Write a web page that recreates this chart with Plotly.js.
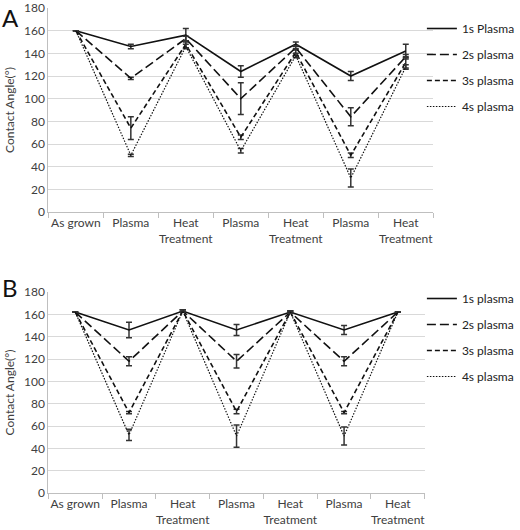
<!DOCTYPE html>
<html>
<head>
<meta charset="utf-8">
<script src="https://cdn.plot.ly/plotly-3.0.1.min.js"></script>
<style>html,body{margin:0;padding:0;background:#fff}#chart{width:520px;height:530px}</style>
</head>
<body>
<div id="chart"></div>
<script>
// Categories (x axis tick labels)
const categories = ['As grown','Plasma','Heat<br>Treatment','Plasma','Heat<br>Treatment','Plasma','Heat<br>Treatment'];
const yTicks = [0,20,40,60,80,100,120,140,160,180];

// Panel A series
const namesA = ['1s Plasma','2s plasma','3s plasma','4s plasma'];
const a1s = [160,146,156,124,148,120,142];
const a1sErr = [0,2,6,5,2,4,6];
const a2s = [160,118,153,100,145,84,137];
const a2sErr = [0,1,2,14,2,8,2];
const a3s = [160,74,148,66,141,50,132];
const a3sErr = [0,10,3,2,3,2,5];
const a4s = [160,50,146,54,138,30,128];
const a4sErr = [0,1,2,2,2,8,2];

// Panel B series
const namesB = ['1s plasma','2s plasma','3s plasma','4s plasma'];
const b1s = [162,146,163,146,162,146,162];
const b1sErr = [0,7,1,5,1,4,0];
const b2s = [162,118,163,118,162,118,162];
const b2sErr = [0,4,1,6,1,4,0];
const b3s = [162,72,163,73,162,72,162];
const b3sErr = [0,1,1,2,1,1,0];
const b4s = [162,52,163,51,162,51,162];
const b4sErr = [0,5,1,10,1,8,0];

const xIdx = categories.map((c,i)=>i);
const dashes = ['solid','9px,4px','5px,3px','1.5px,1.5px'];
const widths = [1.6,1.6,1.6,1.2];
const FONT = 'Lato, "Open Sans", sans-serif';

function mk(y, err, name, k, xa, ya, leg){
  return {
    x: xIdx, y: y, name: name, type: 'scatter', mode: 'lines',
    xaxis: xa, yaxis: ya, legend: leg, legendgroup: leg + k,
    line: {color: '#111', width: widths[k], dash: dashes[k]},
    error_y: {type: 'data', array: err, visible: true, color: '#333', thickness: 1.5, width: 3},
    hoverinfo: 'skip'
  };
}

const data = [
  mk(a1s,a1sErr,namesA[0],0,'x','y','legend'),
  mk(a2s,a2sErr,namesA[1],1,'x','y','legend'),
  mk(a3s,a3sErr,namesA[2],2,'x','y','legend'),
  mk(a4s,a4sErr,namesA[3],3,'x','y','legend'),
  mk(b1s,b1sErr,namesB[0],0,'x2','y2','legend2'),
  mk(b2s,b2sErr,namesB[1],1,'x2','y2','legend2'),
  mk(b3s,b3sErr,namesB[2],2,'x2','y2','legend2'),
  mk(b4s,b4sErr,namesB[3],3,'x2','y2','legend2')
];

const W = 520, H = 530;
function xax(x0,x1,anchor){
  return {
    domain: [x0/W, x1/W], anchor: anchor, range: [-0.5, 6.5],
    tickmode: 'array', tickvals: xIdx, ticktext: categories,
    ticks: '', showgrid: false, zeroline: false,
    showline: true, linecolor: '#bfbfbf', linewidth: 1,
    tickfont: {family: FONT, size: 12, color: '#404040'},
    minor: {tick0: -0.5, dtick: 1, ticks: 'outside', ticklen: 5, tickcolor: '#bfbfbf', showgrid: false},
    fixedrange: true
  };
}
function yax(top,bottom,anchor){
  return {
    domain: [1-bottom/H, 1-top/H], anchor: anchor, range: [0,180],
    tickmode: 'array', tickvals: yTicks,
    ticks: '', showgrid: true, gridcolor: '#d9d9d9', gridwidth: 1, zeroline: false,
    showline: true, linecolor: '#bfbfbf', linewidth: 1,
    ticklabeloverflow: 'allow',
    tickfont: {family: FONT, size: 12, color: '#404040'},
    title: {text: 'Contact Angle(°)', font: {family: FONT, size: 12, color: '#404040'}, standoff: 6},
    fixedrange: true
  };
}

const legendBase = {
  xanchor: 'left', yanchor: 'top', bgcolor: 'rgba(0,0,0,0)',
  font: {family: FONT, size: 12, color: '#222'},
  tracegroupgap: 7, itemclick: false, itemdoubleclick: false
};

const layout = {
  width: W, height: H,
  margin: {l: 0, r: 0, t: 0, b: 0},
  paper_bgcolor: '#fff', plot_bgcolor: '#fff',
  showlegend: true,
  xaxis: xax(51,457,'y'),
  yaxis: yax(8,212,'x'),
  xaxis2: xax(51,448,'y2'),
  yaxis2: yax(292,493,'x2'),
  legend: Object.assign({x: 445/W, y: 1-14/H}, legendBase),
  legend2: Object.assign({x: 445/W, y: 1-284/H}, legendBase),
  annotations: [
    {text: 'A', x: 0, y: 1-1/H, xref: 'paper', yref: 'paper', xanchor: 'left', yanchor: 'top', showarrow: false, font: {family: FONT, size: 24, color: '#111'}},
    {text: 'B', x: 0, y: 1-271/H, xref: 'paper', yref: 'paper', xanchor: 'left', yanchor: 'top', showarrow: false, font: {family: FONT, size: 24, color: '#111'}}
  ]
};

Plotly.newPlot('chart', data, layout, {staticPlot: true, displayModeBar: false});
</script>
</body>
</html>
